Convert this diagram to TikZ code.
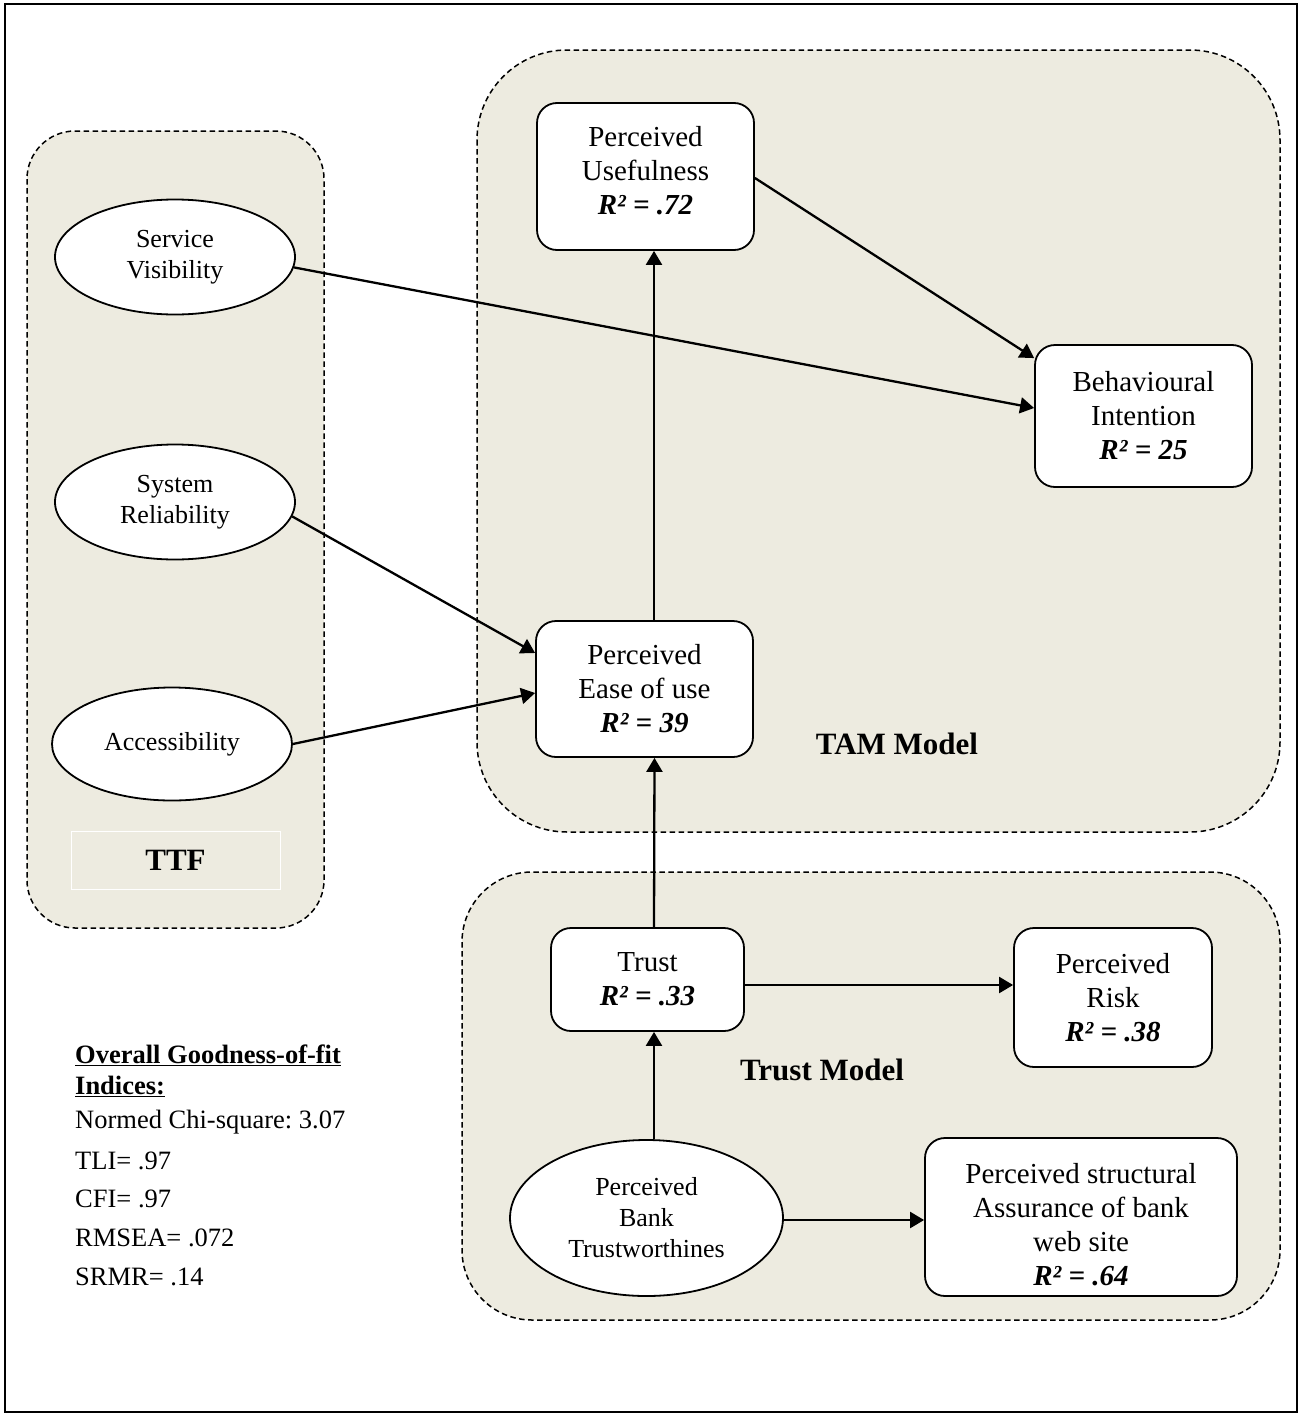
\documentclass[tikz,border=0pt]{standalone}
\usepackage{fontspec}
\setmainfont{Liberation Serif}
\usetikzlibrary{shapes.geometric,arrows.meta}
\definecolor{grp}{HTML}{EDEBE0}
\frenchspacing
\begin{document}
\begin{tikzpicture}[x=1pt,y=-1pt,
 grpbox/.style={draw=black, dash pattern=on 5.5pt off 3.5pt, line width=1.5pt, fill=grp},
 box/.style={draw, line width=1.8pt, fill=white, rounded corners=20pt, inner sep=0pt, align=center, font=\fontsize{29}{34}\selectfont},
 ell/.style={draw, line width=1.8pt, fill=white, ellipse, inner sep=0pt, align=center, font=\fontsize{26}{31}\selectfont},
 arr/.style={line width=2.3pt, -{Triangle[length=14pt,width=16pt]}},
 lbl/.style={font=\fontsize{31}{36}\selectfont\bfseries, inner sep=0pt},
 fit/.style={font=\fontsize{26.5}{38}\selectfont, inner sep=0pt, anchor=west}
]
\useasboundingbox (0,0) rectangle (1302,1416);
\draw[line width=1.5pt] (5,4) rectangle (1297,1412);

% groups
\draw[grpbox, rounded corners=48pt] (27,131) rectangle (324,928);
\draw[grpbox, rounded corners=90pt] (477,50) rectangle (1280,832);
\draw[grpbox, rounded corners=70pt] (462,872) rectangle (1280,1320);

% TTF label
\node[draw=white, line width=1pt, minimum width=209pt, minimum height=58pt, inner sep=0pt, lbl] (ttf) at (175.5,860) {TTF};
\node[lbl] (tam) at (897,744) {TAM Model};
\node[lbl] (trm) at (822,1070) {Trust Model};

% ellipses
\node[ell, minimum width=240pt, minimum height=115pt] (sv) at (175,257) {Service\\Visibility};
\node[ell, minimum width=240pt, minimum height=115pt] (sr) at (175,502) {System\\Reliability};
\node[ell, minimum width=240pt, minimum height=113pt] (acc) at (172,744) {Accessibility};
\node[ell, minimum width=273pt, minimum height=156pt] (pbt) at (646.5,1218) {Perceived\\Bank\\Trustworthines};

% boxes
\node[box, minimum width=217pt, minimum height=147pt] (pu) at (645.5,176.5) {Perceived\\Usefulness\\{\bfseries\itshape R² = .72}\rule[-12pt]{0pt}{12pt}};
\node[box, minimum width=217pt, minimum height=142pt] (bi) at (1143.5,416) {Behavioural\\Intention\\{\bfseries\itshape R² = 25}};
\node[box, minimum width=217pt, minimum height=136pt] (peou) at (644.5,689) {Perceived\\Ease of use\\{\bfseries\itshape R² = 39}};
\node[box, minimum width=193pt, minimum height=103pt] (tr) at (647.5,979.5) {Trust\\{\bfseries\itshape R² = .33}};
\node[box, minimum width=198pt, minimum height=139pt] (pr) at (1113,997.5) {Perceived\\Risk\\{\bfseries\itshape R² = .38}};
\node[box, minimum width=312pt, minimum height=158pt] (psa) at (1081,1217) {\rule{0pt}{36pt}Perceived structural\\Assurance of bank\\web site\\{\bfseries\itshape R² = .64}};

% arrows
\draw[arr] (sv.-5) -- ([yshift=8pt]bi.west);
\draw[arr] ([yshift=-1.5pt]pu.east) -- ([yshift=-14pt]bi.north west);
\draw[arr] (sr.-7) -- ([yshift=36pt]peou.west);
\draw[arr] (acc.east) -- ([yshift=-4pt]peou.west);
\draw[arr] ([xshift=9.5pt]peou.north) -- ([xshift=8.5pt]pu.south);
\draw[arr] ([xshift=6.5pt]tr.north) -- ([xshift=10pt]peou.south);
\draw[arr] ([yshift=-5.5pt]tr.east) -- ([yshift=-5.5pt]tr.east -| pr.west);
\draw[arr] ([xshift=7.5pt]pbt.north) -- ([xshift=6.5pt]tr.south);
\draw[arr] ([yshift=-2pt]pbt.east) -- ([yshift=-2pt]pbt.east -| psa.west);

% fit indices
\node[fit, font=\fontsize{26.5}{30}\selectfont\bfseries, align=left] (h1) at (75,1055) {\underline{Overall Goodness-of-fit}};
\node[fit, font=\fontsize{26.5}{30}\selectfont\bfseries, align=left] (h2) at (75,1086) {\underline{Indices:}};
\node[fit] (f1) at (75,1122) {Normed Chi-square: 3.07};
\node[fit] (f2) at (75,1161) {TLI= .97};
\node[fit] (f3) at (75,1199) {CFI= .97};
\node[fit] (f4) at (75,1238) {RMSEA= .072};
\node[fit] (f5) at (75,1277) {SRMR= .14};
\end{tikzpicture}
\end{document}
